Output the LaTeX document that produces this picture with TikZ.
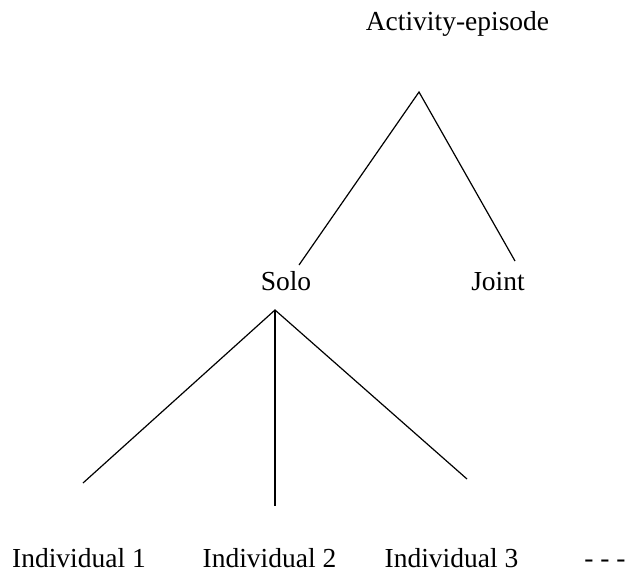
\documentclass[tikz,border=0pt]{standalone}
\usepackage{fontspec}
\setmainfont{Liberation Serif}
\usepackage{tikz}
\usetikzlibrary{positioning}

\begin{document}
\begin{tikzpicture}[x=1pt,y=-1pt,lab/.style={font=\fontsize{27.5}{30}\selectfont,inner sep=0pt,anchor=base},branche/.style={line width=1.2pt}]
\useasboundingbox (0,0) rectangle (629,574);
\node[lab] (episode) at (457.5,30) {Activity-episode};
\node[lab] (solo) at (286,290) {Solo};
\node[lab] (joint) at (498,290) {Joint};
\node[lab] (ind1) at (79,567) {Individual 1};
\node[lab] (ind2) at (269.5,567) {Individual 2};
\node[lab] (ind3) at (451.5,567) {Individual 3};
\node[lab] (etc) at (605,567) {- - -};
\coordinate (haut) at (419,92);
\coordinate (bas) at (275,310);
\coordinate (soloend) at (299,265);
\coordinate (jointend) at (515,261);
\coordinate (ind1end) at (83,483);
\coordinate (ind2end) at (275,506);
\coordinate (ind3end) at (467,479);
\draw[branche] (soloend)--(haut)--(jointend);
\draw[branche] (ind1end)--(bas)--(ind3end);
\draw[branche] (bas)--(ind2end);
\end{tikzpicture}
\end{document}
